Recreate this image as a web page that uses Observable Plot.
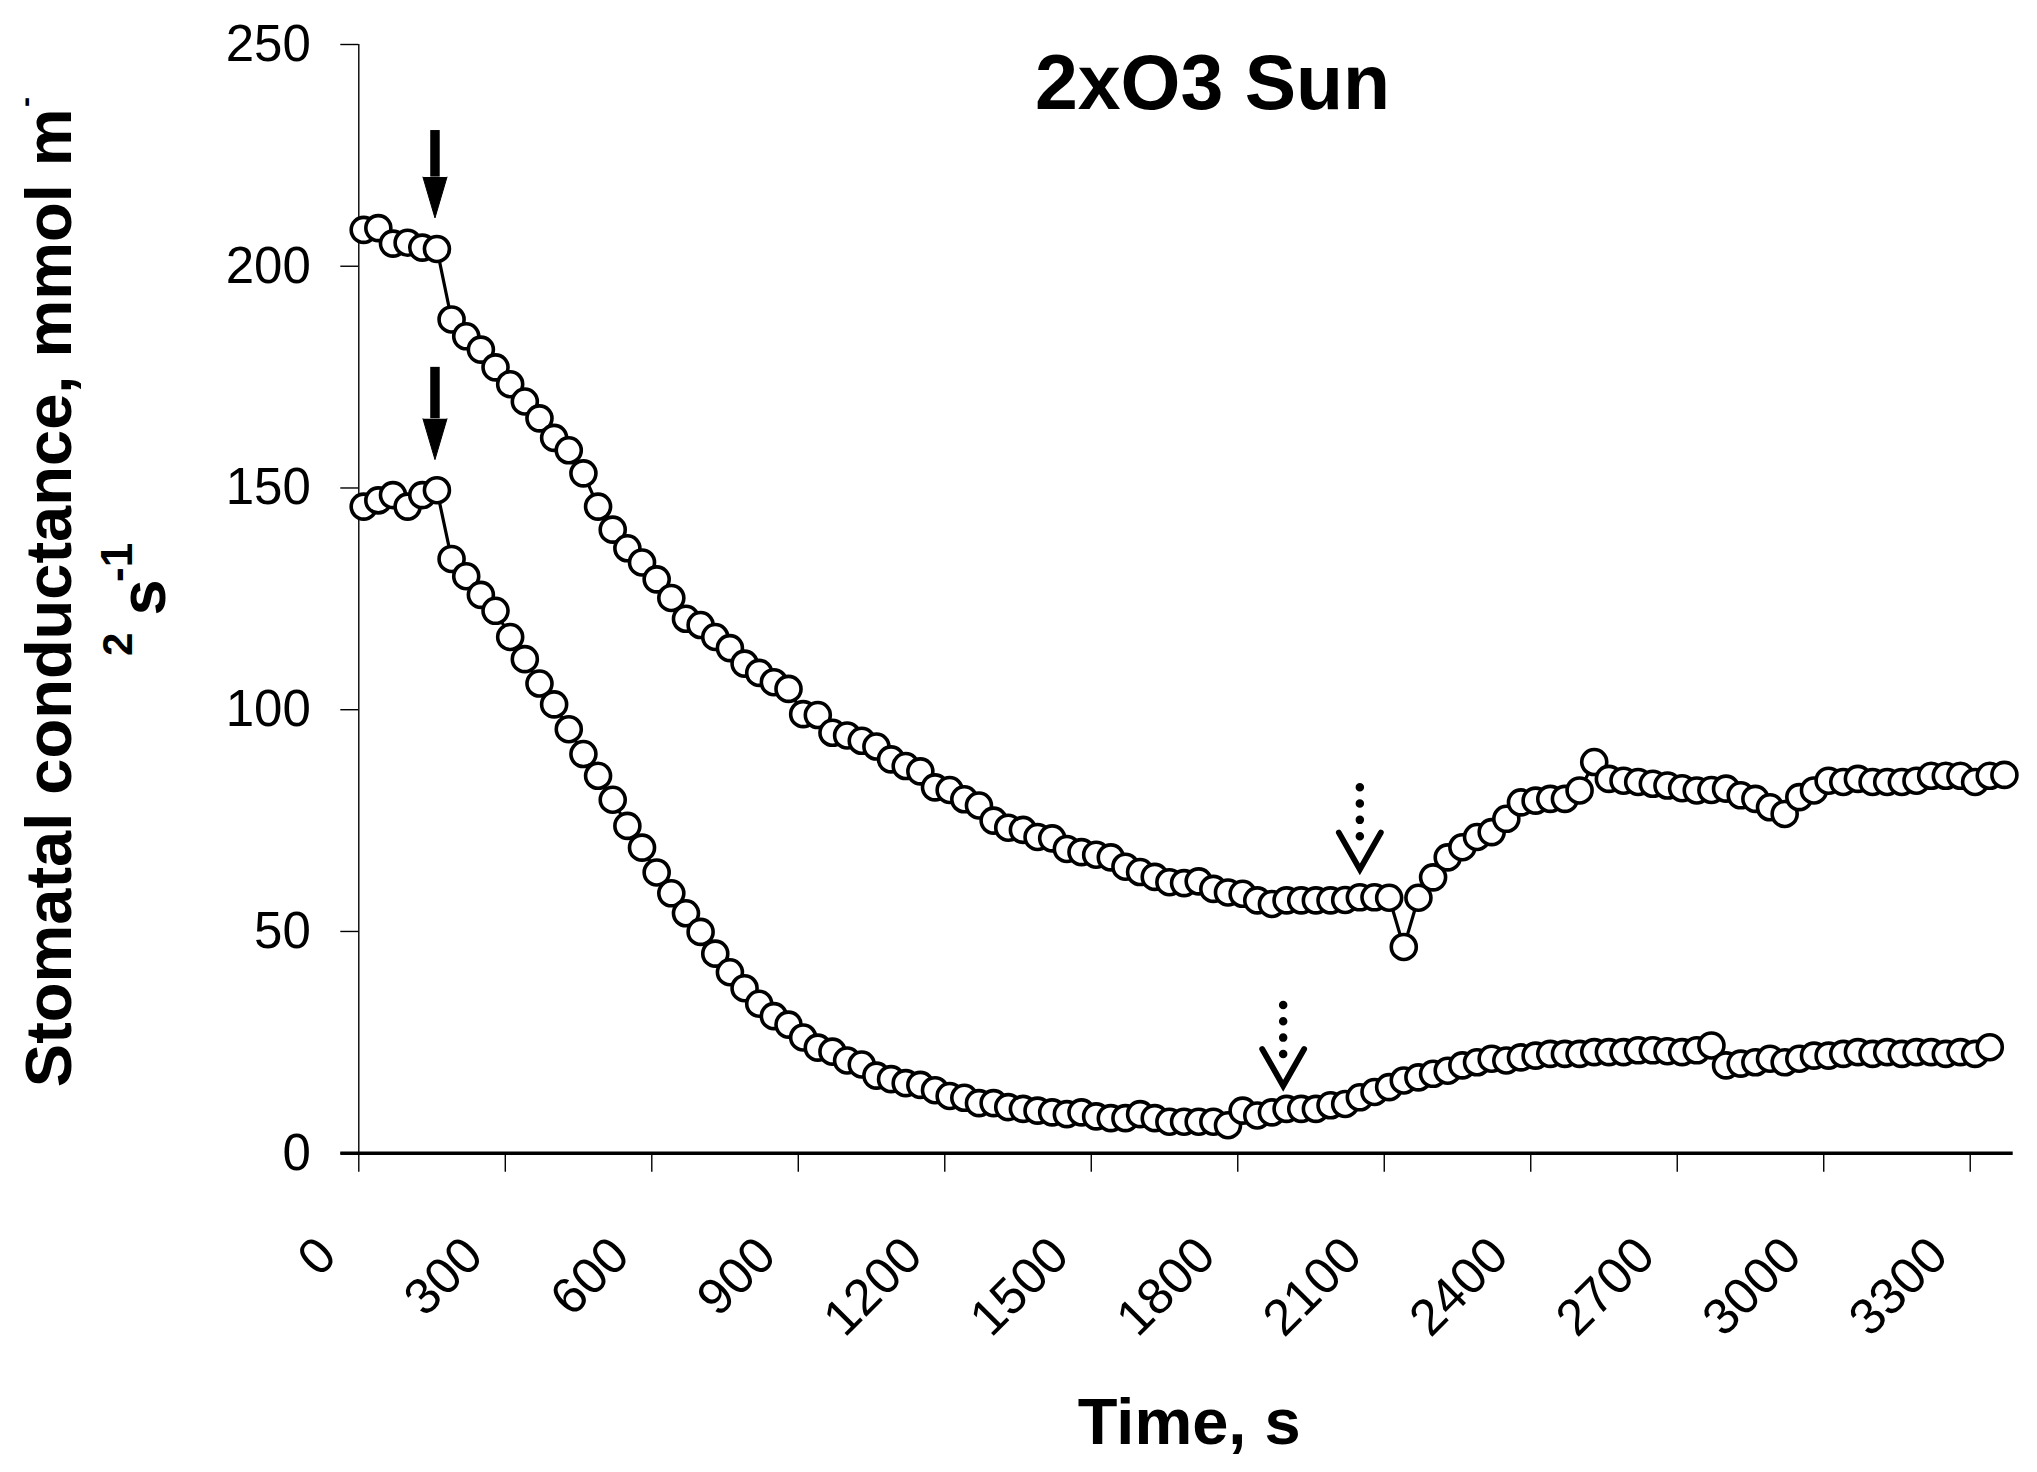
<!DOCTYPE html>
<html>
<head>
<meta charset="utf-8">
<script src="https://cdn.jsdelivr.net/npm/d3@7"></script>
<script src="https://cdn.jsdelivr.net/npm/@observablehq/plot@0.6"></script>
<style>
  html, body { margin: 0; padding: 0; background: #fff; }
  svg { display: block; }
</style>
</head>
<body>
<div id="chart"></div>
<script>
// ---- data ----
const times = [10,40,70,100,130,160,190,220,250,280,310,340,370,400,430,460,490,520,550,580,
  610,640,670,700,730,760,790,820,850,880,910,940,970,1000,1030,1060,1090,1120,1150,1180,
  1210,1240,1270,1300,1330,1360,1390,1420,1450,1480,1510,1540,1570,1600,1630,1660,1690,1720,1750,1780,
  1810,1840,1870,1900,1930,1960,1990,2020,2050,2080,2110,2140,2170,2200,2230,2260,2290,2320,2350,2380,
  2410,2440,2470,2500,2530,2560,2590,2620,2650,2680,2710,2740,2770,2800,2830,2860,2890,2920,2950,2980,
  3010,3040,3070,3100,3130,3160,3190,3220,3250,3280,3310,3340,3370];

const upperSeries = [208.2,208.6,205.1,205.3,204.2,203.9,188.0,184.2,181.2,177.2,
  173.4,169.5,165.7,161.3,158.5,153.3,145.8,140.6,136.4,133.2,
  129.4,125.2,120.5,119.1,116.4,113.9,110.4,108.3,106.2,104.7,
  99.0,98.8,94.8,94.2,93.0,91.7,88.8,87.3,86.1,82.5,
  81.9,79.8,78.4,75.0,73.4,72.9,71.3,71.0,68.6,67.9,
  67.3,66.7,64.6,63.4,62.3,61.1,60.9,61.3,59.6,58.8,
  58.5,57.0,56.2,57.0,57.0,57.0,57.0,57.1,57.7,57.7,
  57.6,46.5,57.6,62.2,66.7,69.0,71.3,72.4,75.4,79.1,
  79.5,79.9,79.9,81.8,88.2,84.4,84.0,83.7,83.3,82.9,
  82.3,81.8,81.9,82.2,80.7,79.9,78.0,76.5,80.3,81.8,
  84.0,83.7,84.4,83.7,83.7,83.7,84.0,85.1,85.1,85.1,
  83.7,85.1,85.3];

const lowerSeries = [145.8,147.2,148.4,145.8,148.4,149.5,134.0,130.1,125.9,122.3,
  116.4,111.4,105.9,101.2,95.6,90.0,85.1,79.7,73.8,68.9,
  63.3,58.6,54.1,49.9,45.0,40.8,37.2,33.7,30.9,29.0,
  26.1,23.8,22.9,20.9,20.0,17.5,16.7,15.8,15.4,14.2,
  12.9,12.5,11.3,11.3,10.4,10.0,9.6,9.2,8.8,9.2,
  8.3,7.9,7.9,8.8,7.9,7.1,7.1,7.1,7.1,6.3,
  9.6,8.5,9.2,10.0,10.0,10.0,10.8,11.1,12.6,13.8,
  14.9,16.4,17.1,17.9,18.6,19.8,20.5,21.3,20.9,21.6,
  22.0,22.4,22.4,22.4,22.8,22.8,22.8,23.2,23.2,23.0,
  22.8,23.2,24.3,19.8,20.2,20.5,21.3,20.5,21.3,22.0,
  22.0,22.4,22.8,22.4,22.8,22.4,22.8,22.8,22.4,22.8,
  22.4,23.9];

const xTicks = [0,300,600,900,1200,1500,1800,2100,2400,2700,3000,3300];
const yTicks = [0,50,100,150,200,250];

// arrow annotations (time, value where the arrow starts, value of its tip)
const solidArrows = [
  {time: 156, from: 230.6, to: 210.9},
  {time: 156, from: 177.2, to: 156.4}
];
const dottedArrows = [
  {time: 2050, from: 82.4, to: 62.6},
  {time: 1893, from: 33.3, to: 13.8}
];

const titleText = "2xO3 Sun";
const xLabel = "Time, s";
const yLabelMain = "Stomatal conductance, mmol m";

// ---- tables built from the arrays ----
const upper = upperSeries.map((v, i) => ({t: times[i], v}));
const lower = lowerSeries.map((v, i) => ({t: times[i], v}));

// ---- layout ----
const W = 2037, H = 1472;
const ML = 358.3, MR = 24.3, MT = 44, MB = 319.3;
const FONT = "'Liberation Sans', Arial, Helvetica, sans-serif";
const at = (x, y) => ({frameAnchor: "top-left", dx: x - ML, dy: y - MT});

// arrow geometry (in data units)
const headLen = 9.2, headHalf = 24.6;
const solidHeads = solidArrows.map((a, k) => [
  {k, t: a.time - headHalf, v: a.to + headLen},
  {k, t: a.time, v: a.to},
  {k, t: a.time + headHalf, v: a.to + headLen}
]).flat();
const vHeads = dottedArrows.map((a, k) => [
  {k, t: a.time - 43, v: a.to + 9.7},
  {k, t: a.time, v: a.to + 1.4},
  {k, t: a.time + 43, v: a.to + 9.7}
]).flat();

const chart = Plot.plot({
  width: W,
  height: H,
  marginLeft: ML,
  marginRight: MR,
  marginTop: MT,
  marginBottom: MB,
  style: {fontFamily: FONT, background: "#fff", color: "#000", overflow: "visible"},
  x: {domain: [0, 3388], label: null},
  y: {domain: [0, 250], label: null},
  marks: [
    // axes
    Plot.ruleX([0], {stroke: "#000", strokeWidth: 1.4}),
    Plot.ruleY([0], {stroke: "#000", strokeWidth: 3.4, insetLeft: -18}),
    Plot.axisY({ticks: yTicks, tickSize: 18, tickPadding: 30, fontSize: 51, strokeWidth: 1.4, label: null, tickFormat: d => String(d)}),
    Plot.axisX({ticks: xTicks, tickSize: 19, strokeWidth: 1.4, label: null, tickFormat: () => ""}),
    Plot.text(xTicks, {x: d => d, frameAnchor: "bottom", text: d => String(d), rotate: -45,
      textAnchor: "end", lineAnchor: "bottom", dx: -20, dy: 105, fontSize: 51, fill: "#000"}),

    // series
    Plot.line(upper, {x: "t", y: "v", stroke: "#000", strokeWidth: 3.2}),
    Plot.dot(upper, {x: "t", y: "v", r: 12.5, fill: "#fff", stroke: "#000", strokeWidth: 3.6}),
    Plot.line(lower, {x: "t", y: "v", stroke: "#000", strokeWidth: 3.2}),
    Plot.dot(lower, {x: "t", y: "v", r: 12.5, fill: "#fff", stroke: "#000", strokeWidth: 3.6}),

    // solid arrows
    Plot.ruleX(solidArrows, {x: "time", y1: "from", y2: d => d.to + headLen, stroke: "#000", strokeWidth: 9.5}),
    Plot.line(solidHeads, {x: "t", y: "v", z: "k", fill: "#000", stroke: "#000", strokeWidth: 1}),

    // dotted arrows
    Plot.ruleX(dottedArrows, {x: "time", y1: "from", y2: d => d.from - 11.1, stroke: "#000",
      strokeWidth: 8.5, strokeLinecap: "round", strokeDasharray: "0 16.3"}),
    Plot.line(vHeads, {x: "t", y: "v", z: "k", stroke: "#000", strokeWidth: 5.8, strokeLinejoin: "miter", strokeMiterlimit: 10}),

    // title & axis labels
    Plot.text([titleText], {...at(1212, 108), text: d => d, textAnchor: "middle", lineAnchor: "bottom",
      fontSize: 77, fontWeight: "bold", fill: "#000"}),
    Plot.text([xLabel], {...at(1188.7, 1443.3), text: d => d, textAnchor: "middle", lineAnchor: "bottom",
      fontSize: 65, fontWeight: "bold", fill: "#000"}),
    Plot.text([yLabelMain], {...at(70, 597.3), text: d => d, rotate: -90, textAnchor: "middle", lineAnchor: "bottom",
      fontSize: 65, fontWeight: "bold", fill: "#000"}),
    Plot.text(["-"], {...at(34, 106.5), text: d => d, rotate: -90, textAnchor: "start", lineAnchor: "bottom",
      fontSize: 30, fontWeight: "bold", fill: "#000"}),
    Plot.text(["2"], {...at(132, 655.5), text: d => d, rotate: -90, textAnchor: "start", lineAnchor: "bottom",
      fontSize: 42, fontWeight: "bold", fill: "#000"}),
    Plot.text(["s"], {...at(165, 615), text: d => d, rotate: -90, textAnchor: "start", lineAnchor: "bottom",
      fontSize: 65, fontWeight: "bold", fill: "#000"}),
    Plot.text(["-1"], {...at(132, 581.5), text: d => d, rotate: -90, textAnchor: "start", lineAnchor: "bottom",
      fontSize: 44, fontWeight: "bold", fill: "#000"})
  ]
});

document.getElementById("chart").appendChild(chart);
</script>
</body>
</html>
